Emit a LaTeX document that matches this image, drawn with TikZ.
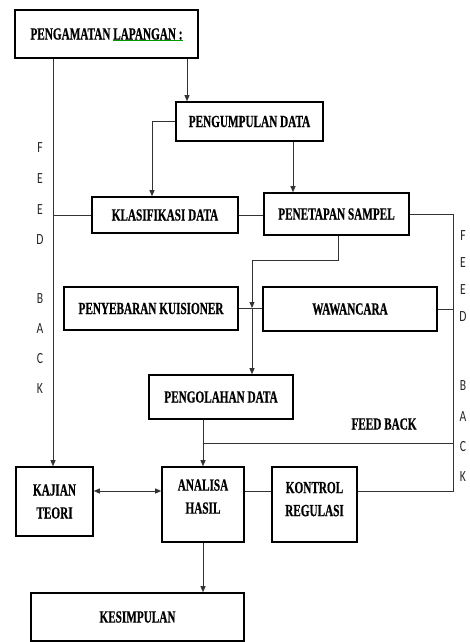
\documentclass[tikz,border=0pt]{standalone}
\usepackage{fontspec}
\newfontfamily\boxfont{Liberation Serif}[FakeStretch=0.66,BoldFeatures={FakeBold=0.6}]
\newfontfamily\sidefont{Carlito}[FakeStretch=0.75]
\usetikzlibrary{arrows.meta}
\tikzset{
  box/.style={draw=black,line width=1.6pt,rectangle,inner sep=0pt,align=center,
    font=\boxfont\bfseries\fontsize{17}{23}\selectfont},
  conn/.style={draw=black!80,line width=0.9pt},
  arr/.style={conn,-{Triangle[length=6pt,width=5pt]}},
  darr/.style={conn,{Triangle[length=6pt,width=5pt]}-{Triangle[length=6pt,width=5pt]}},
  side/.style={font=\sidefont\fontsize{15.5}{15.5}\selectfont,text=black!85,inner sep=0pt},
  lbl/.style={font=\boxfont\bfseries\fontsize{17}{17}\selectfont,inner sep=0pt},
  spell/.style={draw=green!60!black,line width=0.9pt}
}
\begin{document}
\begin{tikzpicture}[x=1pt,y=-1pt]
\useasboundingbox (0,0) rectangle (469,642);
% boxes
\node[box,minimum width=183,minimum height=48] (pa) at (106.5,34) {PENGAMATAN LAPANGAN :};
\node[box,minimum width=147,minimum height=39] (pu) at (249.5,121.5) {PENGUMPULAN DATA};
\node[box,minimum width=146,minimum height=36] (kl) at (165,215) {KLASIFIKASI DATA};
\node[box,minimum width=145,minimum height=42] (pt) at (336.5,214) {PENETAPAN SAMPEL};
\node[box,minimum width=174,minimum height=43] (py) at (151,308.5) {PENYEBARAN KUISIONER};
\node[box,minimum width=174,minimum height=44] (ww) at (350,309) {WAWANCARA};
\node[box,minimum width=144,minimum height=44] (po) at (221,397) {PENGOLAHAN DATA};
\node[box,minimum width=77,minimum height=69] (kt) at (54.5,501.5) {KAJIAN\\TEORI};
\node[box,minimum width=82,minimum height=75,text depth=16pt] (an) at (203,504.5) {ANALISA\\HASIL};
\node[box,minimum width=85,minimum height=75,text depth=11pt] (kr) at (314.5,504.5) {KONTROL\\REGULASI};
\node[box,minimum width=213,minimum height=48] (ke) at (137.5,617) {KESIMPULAN};
% spell-check underline
\draw[spell] ([shift={(6.5,6.5)}]pa.center) -- ([shift={(76.5,6.5)}]pa.center);
% helper coordinates
\coordinate (L) at (53,0);
\coordinate (R) at (453,0);
\coordinate (T) at (252,260);
\coordinate (J) at (252,308);
\coordinate (FB) at (203,443);
\coordinate (Y) at (0,491);
% connectors
\draw[arr] ([xshift=80.5]pa.south) -- ([xshift=80.5]pa.south |- pu.north);
\draw[arr] (pa.south -| L) -- (kt.north -| L);
\draw[arr] (pu.west) -| ([xshift=-13]kl.north);
\draw[arr] ([xshift=43.5]pu.south) -- ([xshift=43.5]pu.south |- pt.north);
\draw[conn] (kl.east) -- (kl.east -| pt.west);
\draw[conn] (kl.west) -- (kl.west -| L);
\draw[conn] (pt.east) -| (R |- Y) -- (kr.east |- Y);
\draw[conn] (ww.east) -- (ww.east -| R);
\draw[conn] (FB -| R) -- (FB);
\draw[arr] ([xshift=1.5]pt.south) |- (T) -- (J);
\draw[conn] (py.east) -- (py.east -| ww.west);
\draw[arr] (J) -- (J |- po.north);
\draw[arr] ([xshift=-18]po.south) -- (an.north);
\draw[darr] (kt.east |- Y) -- (an.west |- Y);
\draw[conn] (an.east |- Y) -- (kr.west |- Y);
\draw[arr] (an.south) -- (an.south |- ke.north);
% labels
\node[lbl] (fbl) at (384,424) {FEED BACK};
\node[side] (l1) at (40,148) {F};
\node[side] (l2) at (40,179) {E};
\node[side] (l3) at (40,210) {E};
\node[side] (l4) at (40,240) {D};
\node[side] (l5) at (40,299) {B};
\node[side] (l6) at (40,329) {A};
\node[side] (l7) at (40,359) {C};
\node[side] (l8) at (40,389) {K};
\node[side] (r1) at (463,236) {F};
\node[side] (r2) at (463,263) {E};
\node[side] (r3) at (463,290) {E};
\node[side] (r4) at (463,317) {D};
\node[side] (r5) at (463,386) {B};
\node[side] (r6) at (463,417) {A};
\node[side] (r7) at (463,447) {C};
\node[side] (r8) at (463,477) {K};
\end{tikzpicture}
\end{document}
